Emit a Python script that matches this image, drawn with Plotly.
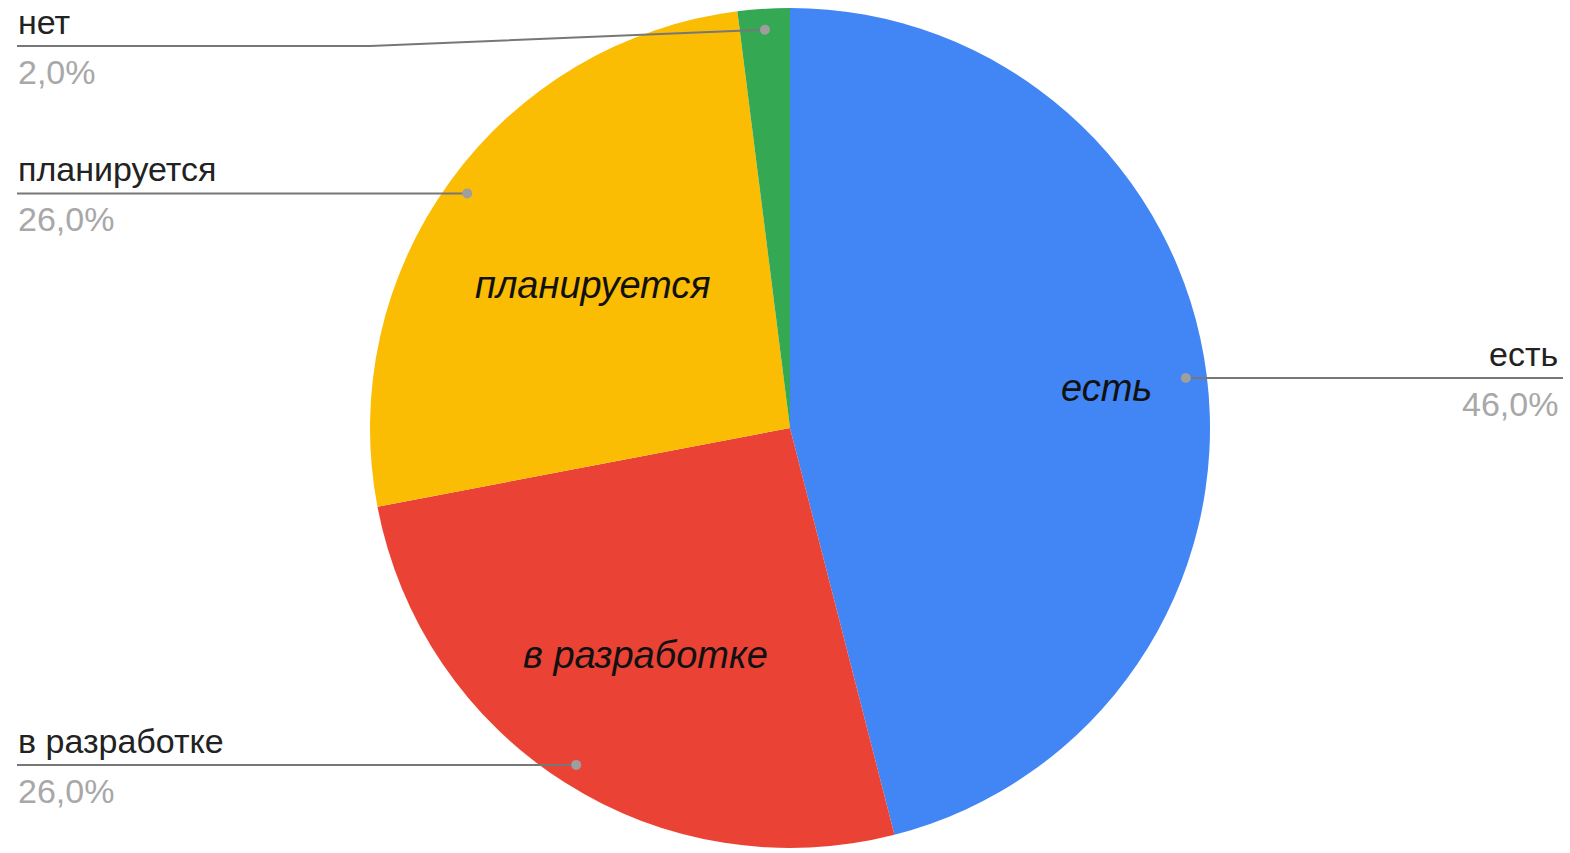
import numpy as np
import plotly.graph_objects as go

labels = ["есть", "в разработке", "планируется", "нет"]
values = [46.0, 26.0, 26.0, 2.0]
inner_text = ["есть", "в разработке", "планируется", ""]
colors = ["#4285F4", "#EA4335", "#FBBC04", "#34A853"]

# layout constants (pixels)
W, H = 1570, 853
CX, CY, R = 790, 428, 420
DOT_F = 0.95
INNER_F = [0.76, 0.64, 0.58, 0.0]
LEFT_X, RIGHT_X = 17, 1563
MIN_LINE_Y = 46
FONT = "Liberation Sans, Arial, sans-serif"

def px(x):
    return x / W

def py(y):
    return (H - y) / H

fig = go.Figure()
fig.add_trace(go.Pie(
    labels=labels, values=values,
    sort=False, direction="clockwise", rotation=0,
    marker=dict(colors=colors, line=dict(width=0)),
    textinfo="none",
    hoverinfo="label+percent",
    showlegend=False,
    domain=dict(x=[px(CX - R), px(CX + R)], y=[py(CY + R), py(CY - R)]),
))

vals = np.array(values)
cum = np.cumsum(vals) - vals / 2
mid = cum / vals.sum() * 2 * np.pi
shapes, annos = [], []
for lab, txt, v, a, fi in zip(labels, inner_text, values, mid, INNER_F):
    if txt:
        tx, ty = CX + fi * R * np.sin(a), CY - fi * R * np.cos(a)
        annos.append(dict(x=px(tx), y=py(ty), xref="paper", yref="paper", text=txt,
                          showarrow=False, xanchor="center", yanchor="middle",
                          font=dict(family=FONT, size=38, color="#111111", style="italic")))
    dx, dy = CX + DOT_F * R * np.sin(a), CY - DOT_F * R * np.cos(a)
    right = np.sin(a) > 0
    ly = max(dy, MIN_LINE_Y)
    ex = RIGHT_X if right else LEFT_X
    if abs(ly - dy) > 1:
        kx = dx - 395 if not right else dx + 395
        path = f"M {px(dx)} {py(dy)} L {px(kx)} {py(ly)} L {px(ex)} {py(ly)}"
    else:
        path = f"M {px(dx)} {py(dy)} L {px(ex)} {py(ly)}"
    shapes.append(dict(type="path", path=path, xref="paper", yref="paper",
                       line=dict(color="#777777", width=2)))
    rr = 5
    shapes.append(dict(type="circle", xref="paper", yref="paper",
                       x0=px(dx - rr), x1=px(dx + rr), y0=py(dy + rr), y1=py(dy - rr),
                       fillcolor="#9E9E9E", line=dict(width=0)))
    xa = "right" if right else "left"
    lx = ex - 3 if right else ex - 1
    annos.append(dict(x=px(lx), y=py(ly - 3), xref="paper", yref="paper",
                      text=lab, showarrow=False, xanchor=xa, yanchor="bottom",
                      font=dict(family=FONT, size=34, color="#222222")))
    annos.append(dict(x=px(lx), y=py(ly + 5), xref="paper", yref="paper",
                      text=f"{v:.1f}%".replace(".", ","), showarrow=False, xanchor=xa, yanchor="top",
                      font=dict(family=FONT, size=34, color="#A8A8A8")))

fig.update_layout(width=W, height=H, margin=dict(l=0, r=0, t=0, b=0),
                  paper_bgcolor="white", plot_bgcolor="white",
                  shapes=shapes, annotations=annos)
fig.write_html("out.html", config={"displayModeBar": False},
               post_script="document.body.style.margin='0';")
